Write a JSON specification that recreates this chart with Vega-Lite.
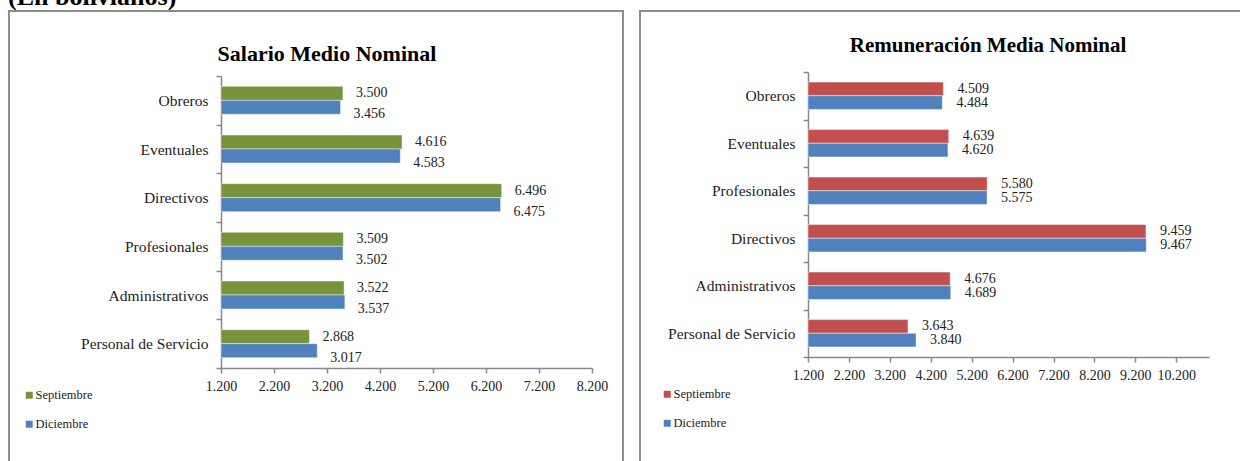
{
  "$schema": "https://vega.github.io/schema/vega-lite/v6.json",
  "padding": {"top": -16, "left": 8, "right": 0, "bottom": 0},
  "title": {"text": "(En bolivianos)", "anchor": "start", "frame": "bounds", "fontSize": 26, "fontWeight": "bold", "offset": -7, "dx": 0, "color": "#000", "font": "'Liberation Serif', serif"},
  "spacing": 15,
  "resolve": {"scale": {"color": "independent", "x": "independent", "y": "independent", "yOffset": "independent"}, "legend": {"color": "independent"}},
  "config": {
    "locale": {"number": {"decimal": ",", "thousands": ".", "grouping": [3], "currency": ["", ""]}},
    "font": "'Liberation Serif', serif",
    "view": {"stroke": "#8c8c8c", "strokeWidth": 2},
    "title": {"color": "#000", "fontWeight": "bold", "font": "'Liberation Serif', serif"},
    "text": {"font": "'Liberation Serif', serif"},
    "axis": {"grid": false, "domainColor": "#888", "tickColor": "#888", "domainWidth": 1.5, "tickWidth": 1.5, "tickSize": 5, "labelFont": "'Liberation Serif', serif", "labelColor": "#222", "title": null},
    "axisX": {"labelFontSize": 14, "labelPadding": 6, "labelOverlap": false, "labelFlush": false},
    "axisY": {"labelFontSize": 15.5, "labelPadding": 8, "tickBand": "extent"},
    "legend": {"orient": "none", "title": null, "symbolType": "square", "symbolSize": 49, "symbolStrokeWidth": 0, "labelFontSize": 12.5, "labelColor": "#222", "labelFont": "'Liberation Serif', serif", "rowPadding": 16, "labelOffset": 0, "padding": 0}
  },
  "hconcat": [
    {
      "width": 614,
      "height": 460,
      "title": {"text": "Salario Medio Nominal", "fontSize": 22, "offset": -62, "dx": 11, "anchor": "middle"},
      "data": {"values": [
        {"cat": "Obreros", "mes": "Septiembre", "v": 3500},
        {"cat": "Obreros", "mes": "Diciembre", "v": 3456},
        {"cat": "Eventuales", "mes": "Septiembre", "v": 4616},
        {"cat": "Eventuales", "mes": "Diciembre", "v": 4583},
        {"cat": "Directivos", "mes": "Septiembre", "v": 6496},
        {"cat": "Directivos", "mes": "Diciembre", "v": 6475},
        {"cat": "Profesionales", "mes": "Septiembre", "v": 3509},
        {"cat": "Profesionales", "mes": "Diciembre", "v": 3502},
        {"cat": "Administrativos", "mes": "Septiembre", "v": 3522},
        {"cat": "Administrativos", "mes": "Diciembre", "v": 3537},
        {"cat": "Personal de Servicio", "mes": "Septiembre", "v": 2868},
        {"cat": "Personal de Servicio", "mes": "Diciembre", "v": 3017}
      ]},
      "encoding": {
        "y": {"field": "cat", "type": "nominal", "sort": null, "scale": {"range": [65, 357], "paddingInner": 0, "paddingOuter": 0}, "axis": {"offset": -212}},
        "yOffset": {"field": "mes", "type": "nominal", "sort": ["Septiembre", "Diciembre"], "scale": {"paddingInner": 0, "paddingOuter": 0.74}},
        "x": {"field": "v", "type": "quantitative", "scale": {"domain": [1200, 8200], "range": [212, 583], "zero": false, "nice": false}, "axis": {"offset": -103, "values": [1200, 2200, 3200, 4200, 5200, 6200, 7200, 8200], "format": ",d"}}
      },
      "layer": [
        {"mark": {"type": "bar", "stroke": "#ffffff", "strokeOpacity": 0.45, "strokeWidth": 1}, "encoding": {"x2": {"datum": 1200}, "color": {"field": "mes", "type": "nominal", "sort": ["Septiembre", "Diciembre"], "scale": {"domain": ["Septiembre", "Diciembre"], "range": ["#77933C", "#4F81BD"]}, "legend": {"legendX": 14, "legendY": 378}}}},
        {"transform": [{"filter": "datum.mes === 'Septiembre'"}], "mark": {"type": "text", "align": "left", "baseline": "middle", "dx": 13, "fontSize": 14, "color": "#222"}, "encoding": {"text": {"field": "v", "type": "quantitative", "format": ",d"}}},
        {"transform": [{"filter": "datum.mes === 'Diciembre'"}], "mark": {"type": "text", "align": "left", "baseline": "middle", "dx": 13, "dy": 7, "fontSize": 14, "color": "#222"}, "encoding": {"text": {"field": "v", "type": "quantitative", "format": ",d"}}}
      ]
    },
    {
      "width": 610,
      "height": 460,
      "title": {"text": "Remuneración Media Nominal", "fontSize": 21, "offset": -52, "dx": 43, "anchor": "middle"},
      "data": {"values": [
        {"cat": "Obreros", "mes": "Septiembre", "v": 4509},
        {"cat": "Obreros", "mes": "Diciembre", "v": 4484},
        {"cat": "Eventuales", "mes": "Septiembre", "v": 4639},
        {"cat": "Eventuales", "mes": "Diciembre", "v": 4620},
        {"cat": "Profesionales", "mes": "Septiembre", "v": 5580},
        {"cat": "Profesionales", "mes": "Diciembre", "v": 5575},
        {"cat": "Directivos", "mes": "Septiembre", "v": 9459},
        {"cat": "Directivos", "mes": "Diciembre", "v": 9467},
        {"cat": "Administrativos", "mes": "Septiembre", "v": 4676},
        {"cat": "Administrativos", "mes": "Diciembre", "v": 4689},
        {"cat": "Personal de Servicio", "mes": "Septiembre", "v": 3643},
        {"cat": "Personal de Servicio", "mes": "Diciembre", "v": 3840}
      ]},
      "encoding": {
        "y": {"field": "cat", "type": "nominal", "sort": null, "scale": {"range": [61, 346], "paddingInner": 0, "paddingOuter": 0}, "axis": {"offset": -168}},
        "yOffset": {"field": "mes", "type": "nominal", "sort": ["Septiembre", "Diciembre"], "scale": {"paddingInner": 0, "paddingOuter": 0.74}},
        "x": {"field": "v", "type": "quantitative", "scale": {"domain": [1200, 11000], "range": [168, 569], "zero": false, "nice": false}, "axis": {"offset": -114, "values": [1200, 2200, 3200, 4200, 5200, 6200, 7200, 8200, 9200, 10200], "format": ",d"}}
      },
      "layer": [
        {"mark": {"type": "bar", "stroke": "#ffffff", "strokeOpacity": 0.45, "strokeWidth": 1}, "encoding": {"x2": {"datum": 1200}, "color": {"field": "mes", "type": "nominal", "sort": ["Septiembre", "Diciembre"], "scale": {"domain": ["Septiembre", "Diciembre"], "range": ["#C0504D", "#4F81BD"]}, "legend": {"legendX": 21, "legendY": 377}}}},
        {"mark": {"type": "text", "align": "left", "baseline": "middle", "dx": 14, "fontSize": 14, "color": "#222"}, "encoding": {"text": {"field": "v", "type": "quantitative", "format": ",d"}}}
      ]
    }
  ]
}
